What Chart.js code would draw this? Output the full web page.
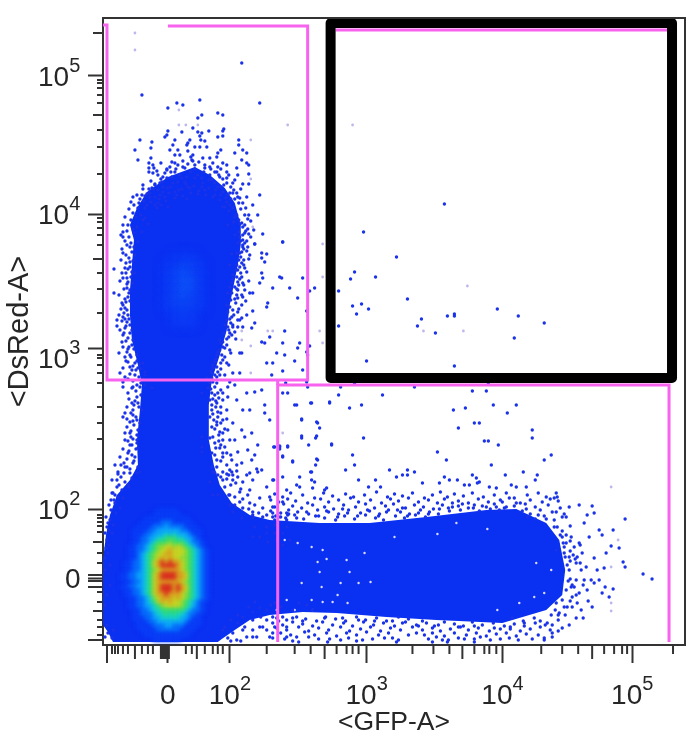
<!DOCTYPE html>
<html>
<head>
<meta charset="utf-8">
<script src="https://cdn.jsdelivr.net/npm/chart.js@4"></script>
<style>
  html, body { margin: 0; padding: 0; background: #fff; }
  canvas { display: block; }
</style>
</head>
<body>
<canvas id="chart" width="692" height="744"></canvas>
<script>
// All values are display channels: 583 across the GFP axis, 627 up the DsRed axis
const xTickValues = [65, 127, 264, 400, 530];
const yTickValues = [67, 136, 297, 431, 569];
const tickBases = ['0', '10', '10', '10', '10'];
const tickExponents = ['', '2', '3', '4', '5'];

const xLongTicks = [4];
const xMediumTicks = [32, 58, 60, 62, 64, 66, 94, 222, 360, 490];
const xShortTicks = [9, 12, 15, 20, 25, 39, 45, 50, 83, 89, 102, 110, 115, 120, 164, 192, 208, 234, 244, 250, 256, 310, 331, 347, 372, 382, 387, 394, 439, 460, 476, 502, 512, 520, 525, 571];
const yLongTicks = [5, 58, 64, 70];
const yMediumTicks = [612, 530, 386, 103, 34];
const yShortTicks = [565, 562, 557, 550, 542, 515, 498, 471, 427, 423, 417, 410, 400, 372, 356, 332, 290, 287, 280, 272, 262, 238, 222, 206, 176, 130, 127, 123, 119, 113, 92, 82, 53, 43, 25, 18, 10];

// outline of the solid part of the population
const bodyOutline = [[92,478],[107,470],[122,457],[132,442],[138,420],[138,400],[135,380],[131,360],[127,340],[124,315],[117,290],[109,265],[106,240],[106,205],[111,180],[117,160],[129,142],[147,130],[167,125],[217,122],[267,122],[324,128],[384,135],[414,136],[444,122],[457,105],[463,75],[460,50],[444,35],[400,22],[334,25],[284,28],[234,32],[200,33],[167,30],[147,25],[132,15],[119,6],[115,3],[10,3],[5,13],[0,20],[0,85],[3,110],[7,130],[14,150],[27,165],[35,180],[34,205],[37,235],[39,260],[35,280],[29,305],[27,330],[27,355],[29,380],[31,405],[27,420],[34,437],[44,453],[65,468],[92,478]];

// density levels, top row first: lower population, then the faint centre of the upper one
const lowerDensityRows = [
  '00000000000000000000000',
  '00000000011111000000000',
  '00000000111111100000000',
  '00000011111111111000000',
  '00000111112221111100000',
  '00001111222322221110000',
  '00011112233333322111000',
  '00011122333434333211000',
  '00011223344555443321000',
  '00011223455565554322100',
  '00112234566776765432100',
  '00112234567787776543210',
  '00112345677887776543210',
  '00112345678787766543210',
  '01122345789898876543210',
  '01122345789999876543210',
  '01122345678888876543210',
  '11223345789999887543210',
  '11223345789999887543210',
  '01122345788888876543210',
  '11223345789998987543210',
  '01122345789998987543210',
  '01122345788988876543210',
  '00112234678887876543210',
  '00112234578787765432100',
  '00112233456777765432100',
  '00011223445555554322100',
  '00011222344545443221000',
  '00011122334444433211000',
  '00001112233333332111000',
  '00001111222332221110000',
  '00000111122222211100000',
  '00000011111111111000000',
  '00000000111111100000000'
];
const upperDensityRows = [
  '0000000',
  '0011100',
  '0112210',
  '0123210',
  '0123310',
  '0123310',
  '0123210',
  '0122210',
  '0012100',
  '0011100',
  '0000000'
];

const speckleTop = [[139,582],[39,550],[97,545],[157,542],[74,542],[80,540],[65,537],[115,532],[120,530],[99,530],[95,527],[90,517],[106,514],[121,516],[120,514],[65,514],[64,510],[62,508],[79,513],[95,513],[99,512],[97,509],[120,509],[115,508],[37,505],[49,503],[48,497],[72,505],[87,505],[85,502],[84,500],[98,505],[102,504],[136,505],[136,500],[32,495],[70,500],[67,495],[75,495],[85,494],[92,498],[97,498],[104,498],[118,495],[115,492],[140,495],[144,492],[132,492],[35,485],[48,487],[72,490],[77,490],[90,490],[107,487],[114,488],[139,485],[144,482],[146,480],[46,482],[50,480],[58,482],[69,483],[89,485],[92,480],[120,482],[124,480],[46,477],[51,477],[64,475],[67,478],[75,480],[102,477],[107,478],[115,478],[134,477],[46,473],[50,472],[72,473],[82,477],[114,473],[124,473],[135,470],[146,471],[132,465],[140,461],[146,461],[64,467],[69,468],[79,467],[84,468],[95,470],[99,467],[107,470],[117,468],[124,467],[59,463],[75,463],[82,463],[92,467],[109,465],[52,460],[49,457],[55,455],[60,458],[65,457],[79,456],[87,457],[99,458],[102,455],[115,458],[120,453],[125,450],[130,452],[135,448],[157,450],[44,451],[39,450],[30,448],[28,443],[37,446],[47,452],[57,450],[62,448],[65,438],[74,450],[95,451],[84,446],[112,450],[117,445],[124,443],[127,440],[42,437],[52,440],[55,442],[58,440],[120,438],[130,437],[134,430],[139,422],[137,421],[142,420],[145,416],[140,410],[146,411],[160,411],[180,403],[152,401],[140,405],[132,410],[125,420],[20,413],[20,408],[30,416],[34,418],[39,413],[42,427],[45,421],[131,423],[136,413]];
const speckleUpperLeft = [[27,398],[35,403],[20,392],[32,390],[27,383],[22,377],[25,376],[11,376],[29,373],[32,372],[20,367],[25,363],[30,362],[24,357],[27,355],[11,352],[25,348],[19,342],[22,337],[20,340],[25,330],[20,328],[14,325],[19,324],[24,323],[14,319],[27,320],[22,317],[29,315],[20,310],[25,307],[30,305],[20,298],[24,293],[27,290],[34,290],[22,288],[25,283],[32,282],[40,282],[20,277],[29,275],[35,277],[42,273],[22,268],[32,270],[42,270]];
const speckleUpperRight = [[135,402],[140,400],[145,398],[152,401],[180,403],[129,391],[134,392],[139,393],[147,390],[159,392],[164,391],[159,387],[162,383],[127,380],[134,380],[139,382],[135,375],[142,377],[159,372],[130,370],[139,368],[160,367],[177,368],[179,367],[200,367],[129,362],[135,363],[140,362],[157,362],[135,355],[125,352],[142,355],[147,352],[150,352],[170,357],[187,357],[207,354],[212,357],[135,347],[140,348],[165,342],[164,338],[195,347],[124,340],[139,340],[135,333],[150,334],[139,327],[144,330],[137,325],[204,334],[152,322],[130,320],[135,318],[125,318],[127,312],[132,313],[149,317],[182,314],[167,308],[129,310],[159,303],[162,302],[180,302],[197,302],[195,297],[207,299],[117,305],[120,303],[120,298],[115,293],[119,290],[127,295],[137,292],[139,292],[174,292],[182,290],[192,284],[204,293],[205,290],[112,283],[120,285],[110,277],[115,273],[124,282],[164,282],[170,282],[180,274],[200,275],[109,272],[114,268],[117,270],[130,272],[137,272],[169,270],[104,267],[109,267]];
const speckleStemLeft = [[20,263],[34,260],[29,257],[42,260],[49,257],[25,252],[34,248],[35,242],[29,242],[39,235],[22,232],[30,235],[27,223],[20,228],[34,225],[24,218],[35,215],[27,212],[34,205],[22,205],[29,200],[35,197],[17,188],[25,192],[32,188],[12,180],[22,178],[30,182],[35,178],[15,173],[27,172],[34,172],[37,173],[29,167],[15,171],[22,163],[9,152],[20,147],[12,142],[17,137],[7,125],[4,118],[9,112],[4,105],[2,87],[7,80],[2,75],[7,60],[4,50],[2,40],[4,20],[10,15],[5,12],[9,7],[2,8]];
const speckleStemRight = [[107,262],[112,258],[127,263],[105,257],[99,252],[109,252],[115,252],[125,248],[132,260],[144,252],[152,253],[159,255],[107,245],[114,242],[120,245],[134,245],[140,235],[147,235],[162,240],[109,235],[115,233],[124,235],[162,232],[107,228],[114,223],[120,225],[130,222],[139,215],[149,212],[167,225],[109,218],[117,213],[125,215],[99,208],[107,207],[112,202],[120,205],[132,205],[142,208],[172,198],[177,198],[185,198],[99,198],[99,193],[109,192],[117,197],[124,192],[135,193],[145,195],[152,190],[155,200],[109,178],[114,185],[120,188],[129,185],[139,182],[149,185],[159,175],[112,172],[120,173],[129,173],[135,168],[147,172],[155,173],[110,173],[115,170],[124,171],[134,174],[144,170],[154,176],[107,163],[120,165],[130,165],[140,163],[150,165],[110,150],[115,150],[127,150],[137,153],[147,155],[164,158],[170,165],[127,140],[137,143],[147,142],[157,147],[167,148],[130,133],[140,137],[150,133],[160,137],[170,138],[180,143],[139,127],[150,127],[160,128],[170,128],[184,132],[152,118],[164,118],[172,120],[184,118],[150,108],[157,108],[164,112],[172,112],[180,112],[165,103],[180,100],[174,105],[187,105],[184,125]];
const speckleSparse = [[183,262],[204,263],[238,258],[252,261],[312,258],[386,261],[185,252],[205,258],[236,250],[280,250],[370,254],[384,254],[192,240],[208,242],[227,242],[247,237],[259,240],[351,235],[363,237],[391,240],[405,232],[414,240],[199,225],[215,222],[217,217],[356,217],[372,222],[377,222],[430,215],[430,207],[199,207],[213,207],[261,207],[206,200],[229,200],[382,204],[386,204],[396,200],[171,198],[177,196],[185,199],[180,188],[190,183],[215,185],[213,180],[250,190],[335,193],[344,185],[442,185],[449,190],[252,180],[389,180],[243,175],[287,175],[305,175],[300,170],[305,170],[312,173],[294,168],[208,173],[421,173],[403,170],[435,170],[342,168],[256,165],[273,165],[370,170],[374,167],[377,163],[433,165],[180,168],[197,168],[171,165],[209,165],[212,163],[194,160],[197,158],[210,157],[184,155],[320,162],[337,162],[347,165],[355,165],[362,160],[367,160],[266,158],[278,158],[224,157],[222,155],[409,160],[414,158],[424,158],[375,162],[387,158],[394,157],[454,152],[452,147],[455,148],[194,240],[209,242],[227,243],[180,252],[199,226],[214,223],[199,209],[214,209],[229,201],[177,199],[190,184],[214,186],[180,189],[209,173]];
const speckleBoxed = [[342,441],[261,413],[294,388],[252,373],[248,366],[273,368],[236,354],[305,346],[250,339],[259,341],[266,336],[254,331],[395,336],[319,326],[345,329],[352,331],[352,329],[416,329],[315,319],[236,319],[333,312],[442,322],[412,307],[264,284],[352,279],[252,262]];
const speckleLobeTop = [[172,151],[180,148],[188,152],[200,150],[212,147],[221,152],[230,149],[243,151],[251,148],[262,150],[274,153],[285,148],[292,151],[300,149],[310,152],[322,147],[330,150],[338,153],[345,148],[352,151],[361,149],[370,152],[381,148],[392,150],[404,152],[412,147],[425,150],[436,152],[444,148],[168,145],[176,143],[185,146],[193,144],[205,142],[218,146],[226,143],[236,145],[248,147],[256,143],[268,145],[279,142],[288,146],[296,144],[306,147],[316,143],[326,145],[335,142],[342,146],[356,144],[366,142],[376,146],[386,143],[398,145],[407,147],[418,142],[428,145],[440,143],[448,146],[456,144],[172,138],[181,141],[190,139],[199,137],[210,140],[222,138],[231,136],[241,140],[253,138],[263,141],[272,137],[283,139],[291,141],[303,137],[312,140],[321,138],[331,136],[340,140],[350,138],[360,141],[371,137],[380,139],[392,141],[402,137],[412,139],[423,141],[433,138],[446,140],[458,137],[168,134],[178,132],[186,135],[195,133],[206,131],[215,135],[226,133],[236,131],[246,135],[258,132],[267,134],[277,131],[286,135],[298,133],[307,131],[318,135],[327,133],[337,136],[347,134],[358,135],[366,137],[377,134],[388,136],[397,135],[420,134],[428,131],[438,135],[450,133],[462,131],[173,129],[183,127],[192,130],[201,126],[213,129],[222,127],[233,125],[242,129],[252,126],[263,130],[273,127],[281,125],[293,129],[302,127],[313,130],[323,128],[425,128],[433,126],[442,129],[452,125],[464,128],[468,119]];
const speckleLobeRight = [[454,133],[460,128],[467,138],[477,140],[490,139],[482,122],[492,132],[485,130],[497,115],[500,110],[511,115],[487,108],[477,102],[469,108],[460,108],[480,92],[492,87],[504,92],[509,99],[517,97],[521,83],[523,78],[495,75],[502,77],[523,126],[541,71],[550,66],[511,56],[503,58],[507,48],[500,52],[490,38],[486,44],[481,27],[474,27],[479,35],[497,65],[492,62],[484,78],[479,75],[474,65],[482,65],[489,65],[477,52],[470,48],[464,55],[469,58],[460,45],[465,38],[457,32],[467,20],[460,17],[450,12],[442,7],[456,25],[454,42],[467,88],[474,82],[462,92],[467,75],[472,98],[464,102],[454,95],[455,118]];
const speckleLobeBottom = [[174,27],[184,25],[194,28],[203,26],[214,24],[223,28],[233,26],[243,24],[254,28],[263,25],[274,27],[284,24],[296,28],[306,26],[320,24],[410,27],[421,24],[432,27],[170,22],[180,20],[190,23],[200,21],[210,19],[220,23],[230,20],[241,22],[250,19],[261,23],[271,20],[281,22],[292,19],[303,23],[314,20],[324,22],[332,19],[342,23],[352,21],[361,19],[370,23],[380,20],[391,22],[402,19],[412,21],[422,19],[433,22],[443,20],[174,17],[184,15],[196,18],[206,14],[216,17],[226,15],[238,18],[247,14],[258,16],[268,18],[278,14],[288,17],[298,15],[310,18],[320,15],[330,17],[338,14],[348,16],[358,18],[366,15],[376,17],[387,14],[398,16],[408,18],[418,14],[428,16],[438,18],[448,15],[178,12],[188,10],[202,13],[212,10],[224,12],[234,9],[244,12],[254,10],[264,13],[276,10],[286,12],[322,10],[330,12],[342,9],[352,12],[364,10],[374,12],[384,9],[394,11],[404,12],[414,9],[424,11],[436,10],[170,7],[182,6],[194,8],[227,6],[246,7],[260,5],[290,7],[296,5],[326,6],[334,8],[346,5],[356,7],[372,6],[378,8],[398,6],[407,7],[442,5],[190,4],[196,3],[225,3],[294,3],[330,3],[345,3],[372,3]];
const speckleWedge = [[120,15],[130,12],[125,7],[135,22],[140,15],[150,33],[157,37],[164,35],[172,42],[150,25],[157,18],[164,15],[170,28],[172,18],[180,28],[184,18],[184,8],[144,8],[154,8],[167,8],[134,5]];
// events crowding right along the solid edge
const speckleEdgeCap = [[52,448],[56,446],[60,453],[63,444],[68,458],[72,447],[76,455],[80,449],[83,461],[88,452],[91,459],[96,454],[100,462],[103,450],[106,457],[110,448],[113,455],[118,450],[121,460],[123,447],[127,452],[132,446],[136,442],[138,436],[142,430],[145,426],[41,444],[44,440],[48,443],[54,437],[35,437],[38,430],[33,428],[40,425],[28,425],[25,420],[31,412],[26,408],[22,404],[28,402],[57,462],[60,468],[70,462],[77,470],[88,473],[92,476],[101,473],[106,465],[112,462],[118,458],[72,453],[85,458],[66,452],[50,456],[47,448],[128,446],[122,438],[126,434],[132,428],[136,425],[140,418],[142,412],[138,404],[144,404],[140,398],[137,392],[30,432],[36,442],[42,449],[46,456],[52,461],[58,466],[62,472],[68,473],[73,476],[80,478],[85,481],[90,484],[96,483],[102,480],[108,476],[112,473],[116,470],[120,466],[124,462],[128,458],[131,455],[134,452],[137,447],[140,442],[143,437],[146,430],[148,424],[143,414],[148,408],[151,415],[40,456],[34,450],[31,440],[26,436],[22,428],[20,420],[24,414],[18,410],[55,470],[64,476],[72,482],[80,484],[88,488],[100,487],[110,482],[118,476],[126,470],[54,474],[48,464],[40,460],[130,462],[138,456],[144,448],[150,440],[155,430]];
const speckleEdgeSides = [[137,408],[141,396],[138,388],[136,385],[141,385],[137,378],[133,375],[138,372],[134,368],[130,366],[136,360],[132,358],[127,358],[129,352],[134,350],[128,345],[133,342],[127,338],[130,335],[125,333],[129,328],[124,325],[128,322],[122,320],[126,315],[121,312],[124,306],[118,302],[122,297],[117,295],[114,290],[118,282],[113,286],[110,280],[114,278],[108,274],[112,270],[31,398],[29,393],[26,387],[30,384],[27,378],[23,372],[28,368],[24,361],[26,352],[22,346],[27,344],[24,335],[21,332],[26,326],[23,319],[27,312],[23,304],[29,300],[25,296],[31,296],[28,288],[34,284],[30,279],[37,281],[33,275],[38,276],[27,271],[36,268],[40,266],[30,264],[38,262],[37,258],[33,254],[38,250],[32,244],[36,238],[30,230],[33,228],[37,222],[31,220],[28,214],[34,210],[30,206],[27,200],[33,196],[29,190],[24,186],[31,184],[27,176],[21,182],[34,202],[18,168],[25,160],[14,158],[19,155],[11,145],[15,148],[8,135],[13,132],[5,122],[10,120],[6,100],[3,97],[5,92],[9,165],[26,158],[110,263],[108,256],[112,250],[110,246],[116,247],[109,240],[113,238],[118,238],[110,231],[115,228],[111,225],[118,222],[112,216],[116,210],[110,208],[120,212],[113,197],[118,200],[122,198],[112,190],[118,184],[124,180],[114,178],[127,175],[118,168],[124,166],[130,170],[122,158],[128,160],[133,162],[126,150],[132,148],[138,156],[132,140],[140,146],[145,150],[146,136],[152,140],[156,132],[150,130],[164,130],[170,132],[178,128],[185,130],[142,402],[144,394],[146,386],[141,380],[144,373],[137,366],[141,360],[146,364],[134,356],[139,350],[143,344],[132,346],[136,336],[131,330],[135,325],[140,318],[127,326],[130,318],[126,308],[133,306],[124,300],[128,292],[122,288],[126,280],[118,276],[122,270],[114,262],[118,255],[125,258],[113,244],[120,252],[118,232],[124,226],[114,220],[122,216],[127,205],[116,204],[120,192],[128,190],[126,170],[134,180],[24,400],[19,396],[23,390],[18,385],[23,382],[19,372],[24,367],[17,364],[21,356],[16,350],[23,343],[18,336],[16,330],[22,326],[17,315],[21,312],[19,303],[26,298],[16,292],[23,284],[27,278],[17,272],[25,266],[20,258],[30,258],[26,246],[31,240],[24,238],[28,232],[24,226],[30,224],[22,212],[28,208],[25,204],[20,196],[26,194],[18,180],[24,178],[14,165],[21,172],[10,152],[16,160],[6,140],[12,150],[3,128],[8,145],[2,112],[6,115]];
const speckleEdgeLobe = [[122,18],[128,25],[135,30],[140,28],[146,38],[152,43],[150,15],[158,28],[164,25],[178,38],[190,35],[196,42],[204,40],[210,35],[168,40],[458,110],[461,102],[463,88],[465,80],[468,66],[463,30],[453,35],[449,30],[445,22],[450,20],[471,90],[475,88],[478,82],[472,58],[475,42],[470,38],[481,60],[485,55],[478,100],[176,128],[186,131],[194,127],[204,133],[216,129],[224,134],[235,128],[245,132],[255,129],[265,135],[276,129],[284,133],[295,135],[305,129],[316,132],[326,131],[336,131],[346,137],[356,139],[372,140],[384,138],[394,138],[404,138],[414,142],[424,136],[436,130],[444,126],[452,118],[460,114],[464,110],[468,104],[462,98],[468,94],[473,86],[468,84],[466,64],[470,60],[474,50],[468,44],[462,38],[456,30],[172,125],[240,136],[300,137],[350,142],[400,143],[222,27],[240,27],[256,25],[272,24],[290,24],[300,22],[316,19],[336,20],[356,18],[372,19],[392,17],[408,16],[422,22],[438,24],[200,24],[190,27],[176,24],[160,18],[170,12],[150,8],[142,18],[128,4],[138,4],[206,8],[216,6],[238,5],[254,4],[270,6],[282,7],[306,10],[314,12],[340,5],[362,6],[388,5],[416,5],[430,6],[450,8],[456,14]];
// empty spots showing inside the solid part
const bodyHoles = [[182,105],[195,102],[209,98],[220,95],[244,85],[215,83],[224,86],[262,92],[217,73],[247,73],[199,62],[238,62],[256,62],[268,63],[219,58],[235,50],[209,45],[220,43],[230,43],[245,42],[184,45],[174,35],[192,35],[210,35],[354,122],[335,111],[385,116],[292,108],[417,42],[434,82],[449,75],[432,48],[442,52],[395,35]];
const faintEvents = [[32,612],[32,595],[76,535],[76,520],[83,520],[95,520],[185,520],[148,505],[148,466],[150,418],[220,401],[250,520],[365,359],[220,368],[217,314],[220,302],[321,314],[361,314],[139,305],[148,299],[139,314],[165,314],[170,314],[148,272],[180,212],[516,105],[509,158],[509,78],[509,42],[509,34]];

// gates
const gateUpperLeft = [[0,620],[4,620],[4,265],[205,265],[205,619],[65,619]];
const gateLowerRight = [[175,3],[175,260],[567,260],[567,3]];
const gateUpperRightTop = [[233,615],[565,615]];
const gateLink = [[175,265],[175,260]];
const boxOutline = [[228,622],[570,622],[570,267],[228,267],[228,622]];

const lowerPalette = { 1: '#0b40f8', 2: '#0a78fd', 3: '#10bcfc', 4: '#1cefc0', 5: '#3cfa5c', 6: '#94fb22', 7: '#e6f204', 8: '#ffb400', 9: '#ff3000' };
const upperPalette = { 1: '#0c3bf6', 2: '#0e48f8', 3: '#1158fa' };
const labelFont = '"Liberation Sans", Arial, sans-serif';
const labelColor = '#262626';

const toPoints = (list) => list.map(([x, y]) => ({ x, y }));

function densityCells(rows, palette, startX, startY, step) {
  const points = [];
  const colors = [];
  rows.forEach((row, r) => {
    [...row].forEach((level, c) => {
      if (level === '0') return;
      points.push({ x: startX + c * step, y: startY - r * step });
      colors.push(palette[level]);
    });
  });
  return { points, colors };
}

const lowerCells = densityCells(lowerDensityRows, lowerPalette, 20, 138, 4);
const upperCells = densityCells(upperDensityRows, upperPalette, 57, 395, 8);

const allSpeckle = [].concat(speckleTop, speckleUpperLeft, speckleUpperRight, speckleStemLeft, speckleStemRight, speckleSparse, speckleBoxed, speckleLobeTop, speckleLobeRight, speckleLobeBottom, speckleWedge, speckleEdgeCap, speckleEdgeSides, speckleEdgeLobe);

const gateLine = (list) => ({
  data: toPoints(list),
  showLine: true,
  borderColor: '#f763ee',
  borderWidth: 3,
  pointRadius: 0,
  fill: false,
  clip: false,
});

const cellData = (cells, size, blurPx) => ({
  data: cells.points,
  pointStyle: 'rect',
  pointRadius: size,
  pointBorderWidth: 0,
  pointBackgroundColor: cells.colors,
  blurPx,
});

// soften the density cells the way the exported image is
const blurPlugin = {
  id: 'densityBlur',
  beforeDatasetDraw(chart, args) {
    const blurPx = chart.data.datasets[args.index].blurPx;
    if (blurPx) {
      chart.ctx.save();
      chart.ctx.filter = 'blur(' + blurPx + 'px)';
    }
  },
  afterDatasetDraw(chart, args) {
    if (chart.data.datasets[args.index].blurPx) chart.ctx.restore();
  },
};

// frame, shorter tick marks and the power-of-ten labels with a raised exponent
const framePlugin = {
  id: 'frameTicks',
  afterDraw(chart) {
    const { ctx, chartArea, scales } = chart;
    ctx.save();
    ctx.strokeStyle = '#333';
    ctx.lineWidth = 2;
    ctx.beginPath();
    ctx.moveTo(chartArea.left, chartArea.top);
    ctx.lineTo(chartArea.right, chartArea.top);
    ctx.lineTo(chartArea.right, chartArea.bottom);
    [[xLongTicks, 18], [xMediumTicks, 14], [xShortTicks, 9]].forEach(([ticks, len]) => {
      ticks.forEach((v) => {
        const px = scales.x.getPixelForValue(v);
        ctx.moveTo(px, chartArea.bottom);
        ctx.lineTo(px, chartArea.bottom + len);
      });
    });
    [[yLongTicks, 15], [yMediumTicks, 10], [yShortTicks, 6]].forEach(([ticks, len]) => {
      ticks.forEach((v) => {
        const py = scales.y.getPixelForValue(v);
        ctx.moveTo(chartArea.left, py);
        ctx.lineTo(chartArea.left - len, py);
      });
    });
    ctx.stroke();

    ctx.fillStyle = labelColor;
    ctx.textBaseline = 'alphabetic';
    const drawLabel = (i, leftEdge, baseline) => {
      ctx.textAlign = 'left';
      ctx.font = '28px ' + labelFont;
      ctx.fillText(tickBases[i], leftEdge, baseline);
      const baseWidth = ctx.measureText(tickBases[i]).width;
      ctx.font = '20px ' + labelFont;
      ctx.fillText(tickExponents[i], leftEdge + baseWidth, baseline - 14);
    };
    xTickValues.forEach((v, i) => {
      const px = scales.x.getPixelForValue(v);
      drawLabel(i, i === 0 ? px - 8 : px - 21, 704);
    });
    yTickValues.forEach((v, i) => {
      const py = scales.y.getPixelForValue(v);
      drawLabel(i, i === 0 ? 65 : 38, py + (i === 2 ? 20 : 10));
    });
    ctx.restore();
  },
};

const axisOptions = (tickValues, tickLength, titleText, titleFont, titlePadding, afterFit) => ({
  type: 'linear',
  afterBuildTicks(scale) {
    scale.ticks = tickValues.map((value) => ({ value }));
  },
  afterFit,
  ticks: { display: false },
  grid: { drawOnChartArea: false, tickLength, tickWidth: 2, tickColor: '#333' },
  border: { display: true, width: 2, color: '#333' },
  title: {
    display: true,
    text: titleText,
    color: labelColor,
    font: { family: labelFont, size: titleFont },
    padding: titlePadding,
  },
});

new Chart(document.getElementById('chart'), {
  type: 'scatter',
  data: {
    // first dataset is painted last
    datasets: [
      { data: toPoints(boxOutline), showLine: true, borderColor: '#000', borderWidth: 10, borderJoinStyle: 'round', borderCapStyle: 'round', pointRadius: 0, fill: false, clip: false },
      gateLine(gateUpperRightTop),
      gateLine(gateUpperLeft),
      gateLine(gateLowerRight),
      gateLine(gateLink),
      cellData(lowerCells, 3.6, 2),
      cellData(upperCells, 7, 5),
      { data: toPoints(allSpeckle), pointRadius: 1.7, pointBorderWidth: 0, pointBackgroundColor: '#1a32e8' },
      { data: toPoints(faintEvents), pointRadius: 1.4, pointBorderWidth: 0, pointBackgroundColor: '#bdb8ec' },
      { data: toPoints(bodyHoles), pointRadius: 1.2, pointBorderWidth: 0, pointBackgroundColor: '#d8dcfb' },
      { data: toPoints(bodyOutline), showLine: true, borderWidth: 0, borderColor: '#0a30f2', backgroundColor: '#0a30f2', fill: 'shape', pointRadius: 0 },
    ],
  },
  options: {
    responsive: false,
    animation: false,
    layout: { padding: { top: 18, right: 6, left: 0, bottom: 0 } },
    plugins: { legend: { display: false }, tooltip: { enabled: false } },
    scales: {
      x: { ...axisOptions(xTickValues, 18, '<GFP-A>', 26.5, { top: 0, bottom: 5 }, (s) => { s.height = 99; }), min: 0, max: 583 },
      y: { ...axisOptions(yTickValues, 15, '<DsRed-A>', 29, { top: 3, bottom: 0 }, (s) => { s.width = 103; }), min: 0, max: 627 },
    },
  },
  plugins: [blurPlugin, framePlugin],
});
</script>
</body>
</html>
